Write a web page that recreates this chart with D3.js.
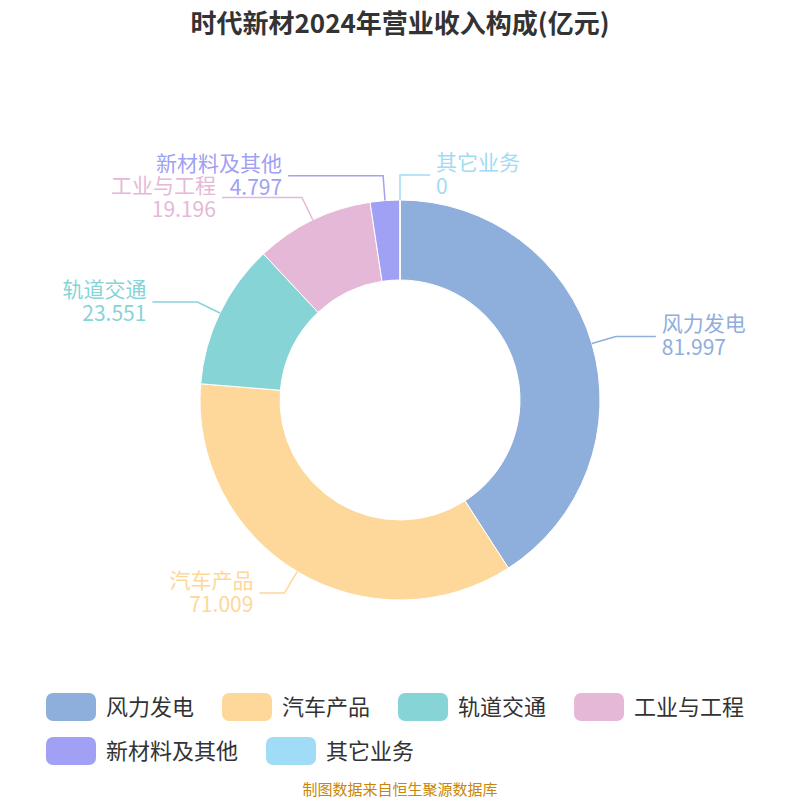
<!DOCTYPE html><html><head><meta charset="utf-8"><script src="https://cdn.jsdelivr.net/npm/d3@7"></script>
<style>body{margin:0;background:#fff}text{font-family:"Noto Sans CJK SC","Noto Sans",sans-serif}</style></head><body>
<svg id="c" width="800" height="800"></svg>
<script>
const categories=["风力发电","汽车产品","轨道交通","工业与工程","新材料及其他","其它业务"];
const values=[81.997,71.009,23.551,19.196,4.797,0];
const valueLabels=["81.997","71.009","23.551","19.196","4.797","0"];
const colors=["#8eaedb","#fdd89a","#86d4d6","#e6b8d8","#a0a0f5","#a0dcf5"];
const hLen=[40,25,45,80,95,30];
const svg=d3.select("#c");
svg.append("text").attr("x",400).attr("y",33).attr("text-anchor","middle").attr("font-size",26).attr("font-weight","bold").attr("fill","#333").text("时代新材2024年营业收入构成(亿元)");
const cx=400,cy=400,R=200,r=120;
const pie=d3.pie().sort(null).value(d=>d)(values);
const arc=d3.arc().innerRadius(r).outerRadius(R);
const g=svg.append("g").attr("transform",`translate(${cx},${cy})`);
g.selectAll("path").data(pie).join("path").attr("d",arc).attr("fill",(d,i)=>colors[i]).attr("stroke","#fff").attr("stroke-width",1);
pie.forEach((d,i)=>{
  const a=(d.startAngle+d.endAngle)/2;
  const p1=[Math.sin(a)*R,-Math.cos(a)*R];
  const p2=[Math.sin(a)*(R+25),-Math.cos(a)*(R+25)];
  const right=(i===5)||(Math.sin(a)>=0 && i!==4);
  const dir=right?1:-1;
  const p3=[p2[0]+dir*hLen[i],p2[1]];
  g.append("polyline").attr("points",[p1,p2,p3].map(p=>p.join(",")).join(" ")).attr("fill","none").attr("stroke",colors[i]).attr("stroke-width",1.5);
  const t=g.append("text").attr("text-anchor",right?"start":"end").attr("font-size",21).attr("fill",colors[i]);
  t.append("tspan").attr("x",p3[0]+dir*6).attr("y",p3[1]-5).text(categories[i]);
  t.append("tspan").attr("x",p3[0]+dir*6).attr("y",p3[1]+19).text(valueLabels[i]);
});
const lg=svg.append("g");
let x=46,y=693;
categories.forEach((c,i)=>{
  if(i===4){x=46;y+=44;}
  lg.append("rect").attr("x",x).attr("y",y).attr("width",50).attr("height",28).attr("rx",7).attr("fill",colors[i]);
  const t=lg.append("text").attr("x",x+60).attr("y",y+22).attr("font-size",22).attr("fill","#333").text(c);
  x+=60+t.node().getComputedTextLength()+28;
});
svg.append("text").attr("x",400).attr("y",795).attr("text-anchor","middle").attr("font-size",15).attr("fill","#c8860a").text("制图数据来自恒生聚源数据库");
</script></body></html>
